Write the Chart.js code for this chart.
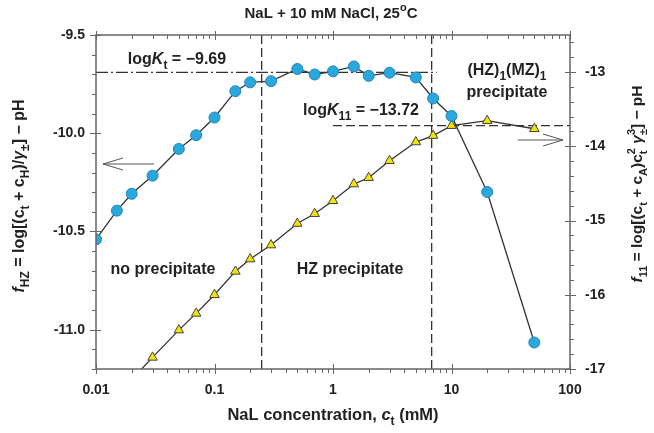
<!DOCTYPE html>
<html>
<head>
<meta charset="utf-8">
<script src="https://cdn.jsdelivr.net/npm/chart.js@4.4.0/dist/chart.umd.min.js"></script>
<style>
  html, body { margin: 0; padding: 0; background: #fff; }
</style>
</head>
<body>
<canvas id="chart" width="654" height="433"></canvas>
<script>
// NaL concentration (mM) and f_HZ values (left axis)
const concHZ = [0.01, 0.015, 0.02, 0.03, 0.05, 0.07, 0.1, 0.15, 0.2, 0.3, 0.5, 0.7, 1, 1.5, 2, 3, 5, 7, 10, 20, 50];
const fHZ = [-10.54, -10.394, -10.308, -10.216, -10.08, -10.01, -9.92, -9.786, -9.741, -9.735, -9.673, -9.701, -9.685, -9.66, -9.708, -9.692, -9.716, -9.823, -9.912, -10.299, -11.065];

// NaL concentration (mM) and f_11 values (right axis)
const conc11 = [0.02, 0.03, 0.05, 0.07, 0.1, 0.15, 0.2, 0.3, 0.5, 0.7, 1, 1.5, 2, 3, 5, 7, 10, 20, 50];
const f11 = [-17.14, -16.844, -16.476, -16.251, -16.0, -15.685, -15.519, -15.33, -15.04, -14.908, -14.733, -14.508, -14.423, -14.194, -13.942, -13.855, -13.722, -13.655, -13.763];

const xTickVals = [0.01, 0.1, 1, 10, 100];
const leftTickVals = [-11.0, -10.5, -10.0, -9.5];
const rightTickVals = [-17, -16, -15, -14, -13];

// boundaries and constants
const boundaries = [0.25, 6.8];
const logKt = -9.69;
const logK11 = -13.72;

const FONT = "'Liberation Sans', Arial, sans-serif";
const ink = '#222';

// draws text made of parts: [text, kind], kind: n, i, sub, sup, sup0 (sup over previous sub)
function richText(ctx, parts, x, y, size, align) {
  const fontOf = (k) => {
    const small = (k === 'sub' || k === 'sup' || k === 'sup0');
    const s = small ? Math.round(size * 0.72) : size;
    return (k === 'i' ? 'italic ' : '') + 'bold ' + s + 'px ' + FONT;
  };
  let total = 0, last = 0;
  parts.forEach(([t, k]) => {
    ctx.font = fontOf(k);
    const w = ctx.measureText(t).width;
    if (k === 'sup0') { total += Math.max(0, w - last); }
    else { total += w; last = w; }
  });
  let cx = align === 'center' ? x - total / 2 : x;
  let prevStart = cx, prevW = 0;
  ctx.textBaseline = 'alphabetic';
  ctx.textAlign = 'left';
  parts.forEach(([t, k]) => {
    ctx.font = fontOf(k);
    const w = ctx.measureText(t).width;
    let dy = 0;
    if (k === 'sub') dy = size * 0.3;
    if (k === 'sup' || k === 'sup0') dy = -size * 0.45;
    if (k === 'sup0') {
      ctx.fillText(t, prevStart, y + dy);
      cx = prevStart + Math.max(w, prevW);
      return;
    }
    ctx.fillText(t, cx, y + dy);
    prevStart = cx; prevW = w;
    cx += w;
  });
}

function line(ctx, x1, y1, x2, y2) {
  ctx.beginPath(); ctx.moveTo(x1, y1); ctx.lineTo(x2, y2); ctx.stroke();
}

function arrow(ctx, x1, x2, y) {
  // open arrow head at x2
  const dir = Math.sign(x2 - x1);
  line(ctx, x1, y, x2, y);
  ctx.beginPath();
  ctx.moveTo(x2 - dir * 20, y - 6);
  ctx.lineTo(x2, y);
  ctx.lineTo(x2 - dir * 20, y + 6);
  ctx.stroke();
}

const refLines = {
  id: 'refLines',
  beforeDatasetsDraw(chart) {
    const ctx = chart.ctx, a = chart.chartArea;
    const xs = chart.scales.x, yl = chart.scales.y, yr = chart.scales.y2;
    ctx.save();
    ctx.strokeStyle = '#333';
    ctx.lineWidth = 1.3;
    ctx.setLineDash([9, 4]);
    boundaries.forEach(b => {
      const px = xs.getPixelForValue(b);
      line(ctx, px, a.top, px, a.bottom);
    });
    const y11 = yr.getPixelForValue(logK11);
    line(ctx, xs.getPixelForValue(1), y11, a.right, y11);
    ctx.setLineDash([12, 3, 2, 3]);
    const yt = yl.getPixelForValue(logKt);
    line(ctx, a.left, yt, xs.getPixelForValue(7.5), yt);
    ctx.restore();
  }
};

const decor = {
  id: 'decor',
  afterDraw(chart) {
    const ctx = chart.ctx, a = chart.chartArea;
    const xs = chart.scales.x, yl = chart.scales.y, yr = chart.scales.y2;
    ctx.save();
    // frame
    ctx.strokeStyle = '#666';
    ctx.lineWidth = 1.5;
    ctx.strokeRect(a.left, a.top, a.right - a.left, a.bottom - a.top);
    ctx.lineWidth = 1;
    // x ticks (bottom & top)
    for (let d = -2; d <= 2; d++) {
      for (let m = 1; m <= 9; m++) {
        const v = m * Math.pow(10, d);
        if (v > 100.0001) break;
        const px = Math.round(xs.getPixelForValue(v)) + 0.5;
        if (m === 1) {
          line(ctx, px, a.bottom - 5, px, a.bottom + 5);
          line(ctx, px, a.top - 4, px, a.top + 5);
        } else {
          line(ctx, px, a.bottom, px, a.bottom + 4);
          line(ctx, px, a.top, px, a.top + 4);
        }
      }
    }
    // left ticks
    for (let i = 0; i <= 17; i++) {
      const v = -11.2 + i * 0.1;
      const py = Math.round(yl.getPixelForValue(v)) + 0.5;
      const major = Math.abs(v * 2 - Math.round(v * 2)) < 1e-6;
      if (major) line(ctx, a.left - 6, py, a.left + 5, py);
      else line(ctx, a.left - 4, py, a.left, py);
    }
    // right ticks
    for (let i = 0; i <= 22; i++) {
      const v = -17 + i * 0.2;
      const py = Math.round(yr.getPixelForValue(v)) + 0.5;
      const major = Math.abs(v - Math.round(v)) < 1e-6;
      if (major) line(ctx, a.right - 5, py, a.right + 6, py);
      else line(ctx, a.right, py, a.right + 4, py);
    }

    // arrows
    ctx.strokeStyle = '#555';
    ctx.lineWidth = 1;
    arrow(ctx, 154, 103, 164);
    arrow(ctx, 518, 563, 140);

    // texts
    ctx.fillStyle = ink;
    richText(ctx, [['NaL + 10 mM NaCl, 25', 'n'], ['o', 'sup'], ['C', 'n']], 331, 18, 15, 'center');
    richText(ctx, [['NaL concentration, ', 'n'], ['c', 'i'], ['t', 'sub'], [' (mM)', 'n']], 333, 420, 16.5, 'center');
    richText(ctx, [['log', 'n'], ['K', 'i'], ['t', 'sub'], [' = \u22129.69', 'n']], 177, 64, 16, 'center');
    richText(ctx, [['log', 'n'], ['K', 'i'], ['11', 'sub'], [' = \u221213.72', 'n']], 361, 115, 16, 'center');
    richText(ctx, [['(HZ)', 'n'], ['1', 'sub'], ['(MZ)', 'n'], ['1', 'sub']], 507, 75, 16, 'center');
    richText(ctx, [['precipitate', 'n']], 507, 97, 16, 'center');
    richText(ctx, [['no precipitate', 'n']], 163, 274, 16, 'center');
    richText(ctx, [['HZ precipitate', 'n']], 350, 274, 16, 'center');

    // left axis title
    ctx.save();
    ctx.translate(24, 196);
    ctx.rotate(-Math.PI / 2);
    richText(ctx, [['f', 'i'], ['HZ', 'sub'], [' = log[(c', 'n'], ['t', 'sub'], [' + c', 'n'], ['H', 'sub'],
      [')/', 'n'], ['\u03b3', 'i'], ['\u00b1', 'sub'], ['] \u2212 pH', 'n']], 0, 0, 16, 'center');
    ctx.restore();

    // right axis title
    ctx.save();
    ctx.translate(642, 184);
    ctx.rotate(-Math.PI / 2);
    richText(ctx, [['f', 'i'], ['11', 'sub'], [' = log[(c', 'n'], ['t', 'sub'], [' + c', 'n'], ['A', 'sub'],
      [')c', 'n'], ['t', 'sub'], ['2', 'sup0'], [' ', 'n'], ['\u03b3', 'i'], ['\u00b1', 'sub'], ['3', 'sup0'],
      ['] \u2212 pH', 'n']], 0, 0, 15.5, 'center');
    ctx.restore();

    ctx.restore();
  }
};

const tickFont = { family: FONT, size: 14, weight: 'bold' };

new Chart(document.getElementById('chart'), {
  type: 'line',
  data: {
    datasets: [
      {
        label: 'f_HZ',
        data: concHZ.map((c, i) => ({ x: c, y: fHZ[i] })),
        yAxisID: 'y',
        borderColor: '#333',
        borderWidth: 1.3,
        pointStyle: 'circle',
        pointRadius: 5.5,
        pointBackgroundColor: '#2aa8dc',
        pointBorderColor: '#1c86bd',
        pointBorderWidth: 1,
        tension: 0,
        clip: 0,
      },
      {
        label: 'f_11',
        data: conc11.map((c, i) => ({ x: c, y: f11[i] })),
        yAxisID: 'y2',
        borderColor: '#333',
        borderWidth: 1.3,
        pointStyle: 'triangle',
        pointRadius: 5.5,
        pointBackgroundColor: '#f0e400',
        pointBorderColor: '#444',
        pointBorderWidth: 1,
        tension: 0,
        clip: 0,
      },
    ],
  },
  options: {
    responsive: false,
    animation: false,
    devicePixelRatio: 1,
    layout: { padding: { top: 35, left: 0, right: 0, bottom: 0 } },
    plugins: {
      legend: { display: false },
      tooltip: { enabled: false },
    },
    scales: {
      x: {
        type: 'logarithmic',
        position: 'bottom',
        min: 0.01,
        max: 100,
        grid: { display: false, drawTicks: false },
        border: { display: false },
        afterBuildTicks: (s) => { s.ticks = xTickVals.map(v => ({ value: v })); },
        afterFit: (s) => { s.height = 64; },
        ticks: {
          color: ink,
          font: tickFont,
          padding: 13,
          maxRotation: 0,
          autoSkip: false,
          callback: (v) => String(v),
        },
      },
      y: {
        type: 'linear',
        position: 'left',
        min: -11.2,
        max: -9.5,
        grid: { display: false, drawTicks: false },
        border: { display: false },
        afterBuildTicks: (s) => { s.ticks = leftTickVals.map(v => ({ value: v })); },
        afterFit: (s) => { s.width = 96; },
        ticks: {
          color: ink,
          font: tickFont,
          padding: 11,
          callback: (v) => v.toFixed(1),
        },
      },
      y2: {
        type: 'linear',
        position: 'right',
        min: -17,
        max: -12.5,
        grid: { display: false, drawTicks: false },
        border: { display: false },
        afterBuildTicks: (s) => { s.ticks = rightTickVals.map(v => ({ value: v })); },
        afterFit: (s) => { s.width = 84; },
        ticks: {
          color: ink,
          font: tickFont,
          padding: 15,
          callback: (v) => String(v),
        },
      },
    },
  },
  plugins: [refLines, decor],
});
</script>
</body>
</html>
